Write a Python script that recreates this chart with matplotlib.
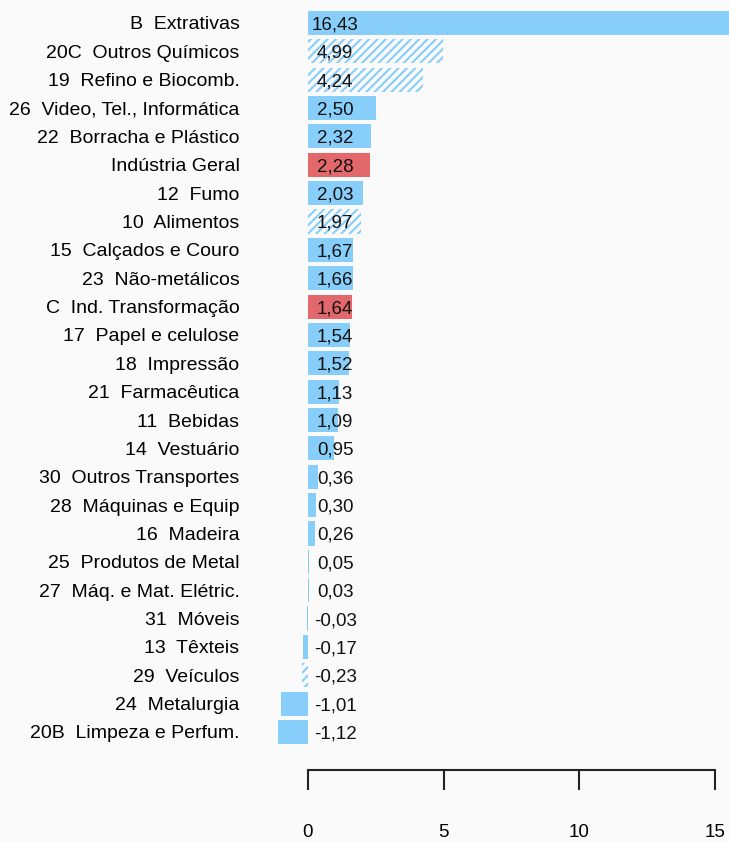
import matplotlib.pyplot as plt
import numpy as np

plt.rcParams["font.family"] = ["Liberation Sans", "DejaVu Sans"]
plt.rcParams["hatch.linewidth"] = 1.5

labels = [
    "B  Extrativas",
    "20C  Outros Químicos",
    "19  Refino e Biocomb.",
    "26  Video, Tel., Informática",
    "22  Borracha e Plástico",
    "Indústria Geral",
    "12  Fumo",
    "10  Alimentos",
    "15  Calçados e Couro",
    "23  Não-metálicos",
    "C  Ind. Transformação",
    "17  Papel e celulose",
    "18  Impressão",
    "21  Farmacêutica",
    "11  Bebidas",
    "14  Vestuário",
    "30  Outros Transportes",
    "28  Máquinas e Equip",
    "16  Madeira",
    "25  Produtos de Metal",
    "27  Máq. e Mat. Elétric.",
    "31  Móveis",
    "13  Têxteis",
    "29  Veículos",
    "24  Metalurgia",
    "20B  Limpeza e Perfum.",
]
values = [16.43, 4.99, 4.24, 2.50, 2.32, 2.28, 2.03, 1.97, 1.67, 1.66, 1.64,
          1.54, 1.52, 1.13, 1.09, 0.95, 0.36, 0.30, 0.26, 0.05, 0.03, -0.03,
          -0.17, -0.23, -1.01, -1.12]
kind = ["n", "h", "h", "n", "n", "r", "n", "h", "n", "n", "r",
        "n", "n", "n", "n", "n", "n", "n", "n", "n", "n", "n",
        "n", "h", "n", "n"]

blue = "#87CEFA"
red = "#E3686C"
bg = "#FAFAFA"

fig = plt.figure(figsize=(7.29, 8.42), dpi=100, facecolor=bg)
ax = fig.add_axes([270 / 729, 72 / 842, 459 / 729, 770 / 842])
ax.set_facecolor(bg)

pos = np.arange(len(values))
for p, v, k in zip(pos, values, kind):
    if k == "h":
        ax.barh(p, v, height=0.85, facecolor="none", edgecolor=blue,
                linewidth=0, hatch="////")
    else:
        ax.barh(p, v, height=0.85, color=red if k == "r" else blue,
                linewidth=0)
    ax.text(1.0, p, f"{v:.2f}".replace(".", ","), ha="center",
            va="center_baseline", fontsize=13.5, color="#111111")

ax.set_xlim(-1.4, 15.52)
ax.set_ylim(26.34, -0.81)

ax.set_yticks(pos, labels, fontsize=14)
for t in ax.get_yticklabels():
    t.set_verticalalignment("center_baseline")
ax.tick_params(axis="y", length=0, pad=22)

ax.set_xticks([0, 5, 10, 15])
ax.set_xticklabels(["0", "5", "10", "15"], fontsize=13.5)
ax.tick_params(axis="x", length=14.4, width=1.5, pad=24.5, color="#222222")

for s in ["top", "right", "left"]:
    ax.spines[s].set_visible(False)
ax.spines["bottom"].set_bounds(0, 15)
ax.spines["bottom"].set_linewidth(1.5)
ax.spines["bottom"].set_color("#222222")

fig.savefig("out.png", dpi=100, facecolor=bg)
